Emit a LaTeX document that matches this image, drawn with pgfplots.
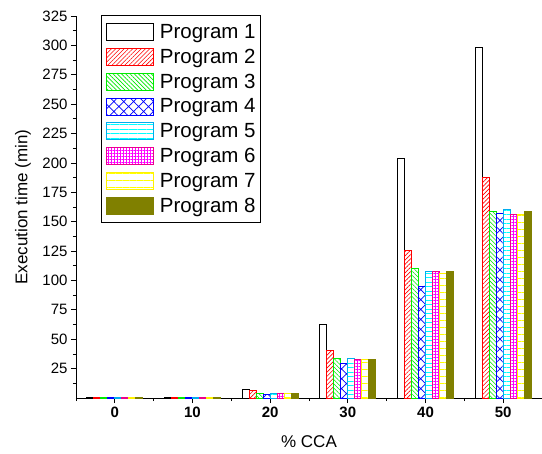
\documentclass[border=0pt]{standalone}
\usepackage{fontspec}
\setmainfont{Liberation Sans}
\usepackage{pgfplots}
\pgfplotsset{compat=1.18}
\usetikzlibrary{patterns.meta}
\definecolor{pgreen}{RGB}{0,235,0}
\definecolor{polive}{RGB}{128,128,0}
\begin{document}
\begin{tikzpicture}
\begin{axis}[
  scale only axis, width=466pt, height=382pt,
  xmin=-5, xmax=55, ymin=0, ymax=325,
  axis lines=left, axis line style={-, line width=0.8pt},
  ybar=0pt, bar width=7pt,
  xtick={0,10,...,50}, minor xtick={-5,5,...,55},
  ytick={25,50,...,325}, minor ytick={12.5,37.5,...,312.5},
  tick align=outside, major tick length=5pt, minor tick length=3pt,
  tick style={line width=0.8pt, black},
  /pgf/number format/assume math mode=true,
  xticklabel style={font=\fontsize{15}{18}\selectfont\bfseries},
  yticklabel style={font=\fontsize{15}{18}\selectfont},
  xlabel={\% CCA}, ylabel={Execution time (min)},
  label style={font=\fontsize{17}{20}\selectfont},
  xlabel style={at={(axis description cs:0.5,-0.1144)}, anchor=center},
  ylabel style={at={(axis description cs:-0.1137,0.5)}, anchor=center},
  legend image code/.code={\draw[#1, line width=0.8pt] (0pt,-8.5pt) rectangle (47pt,8.5pt);},
  legend style={at={(0.053,1.003)}, anchor=north west, draw=black, line width=0.8pt,
    font=\fontsize{20.5}{24}\selectfont, nodes={inner sep=0pt}, row sep=7pt, column sep=6pt,
    inner xsep=5pt, inner ysep=8pt, cells={anchor=west}},
  every axis plot/.append style={line width=0.8pt},
]
\addplot[draw=black, fill=white] coordinates {(0,0.5)(10,0.6)(20,7.2)(30,62.4)(40,203.6)(50,298)};
\addplot[draw=red, pattern={Lines[angle=45,distance=3pt,line width=0.6pt]}, pattern color=red] coordinates {(0,0.5)(10,0.5)(20,6.3)(30,40.2)(40,125.7)(50,188)};
\addplot[draw=pgreen, pattern={Lines[angle=-45,distance=3pt,line width=0.6pt]}, pattern color=pgreen] coordinates {(0,0.4)(10,0.4)(20,4.2)(30,33.4)(40,110)(50,159)};
\addplot[draw=blue, pattern={Hatch[angle=45,distance=7pt,line width=0.7pt]}, pattern color=blue] coordinates {(0,0.4)(10,0.4)(20,3.0)(30,29.1)(40,95.3)(50,157)};
\addplot[draw=cyan, pattern={Lines[angle=0,distance=4.5pt,line width=0.8pt]}, pattern color=cyan] coordinates {(0,0.4)(10,0.4)(20,3.8)(30,33.9)(40,108)(50,160.7)};
\addplot[draw=magenta, pattern={Hatch[angle=0,distance=3pt,line width=0.5pt]}, pattern color=magenta] coordinates {(0,0.4)(10,0.4)(20,3.8)(30,32.5)(40,107.3)(50,156.4)};
\addplot[draw=yellow, pattern={Lines[angle=0,distance=7pt,line width=0.8pt]}, pattern color=yellow] coordinates {(0,0.4)(10,0.4)(20,3.8)(30,32.5)(40,105.9)(50,156)};
\addplot[draw=polive, fill=polive] coordinates {(0,0.4)(10,0.4)(20,3.8)(30,32.8)(40,107.3)(50,158.4)};
\legend{Program 1,Program 2,Program 3,Program 4,Program 5,Program 6,Program 7,Program 8}
\end{axis}
\pgfresetboundingbox
\path ([shift={(-76pt,-55pt)}]current axis.south west) rectangle ([shift={(0pt,16pt)}]current axis.north east);
\end{tikzpicture}
\end{document}
